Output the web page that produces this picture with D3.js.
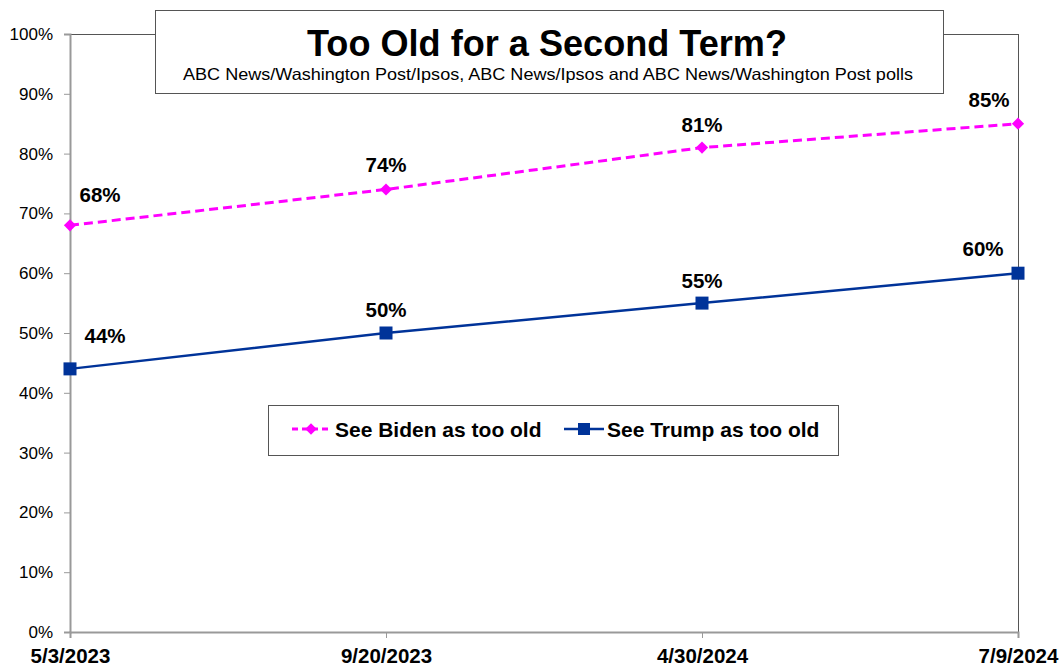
<!DOCTYPE html>
<html><head><meta charset="utf-8">
<script src="https://cdn.jsdelivr.net/npm/d3@7"></script>
<style>body{margin:0;background:#fff}svg{display:block;font-family:Arial,"Liberation Sans",sans-serif}</style>
</head><body><svg id="c" width="1060" height="666"></svg>
<script>
const dates = ["5/3/2023","9/20/2023","4/30/2024","7/9/2024"];
const biden = [68,74,81,85];
const trump = [44,50,55,60];
const yTicks = [0,10,20,30,40,50,60,70,80,90,100];
const seriesNames = ["See Biden as too old","See Trump as too old"];
const title = "Too Old for a Second Term?";
const subtitle = "ABC News/Washington Post/Ipsos, ABC News/Ipsos and ABC News/Washington Post polls";

const svg = d3.select("#c");
const L=70,R=1018,T=34,B=632;
const x = d3.scalePoint().domain(dates).range([L,R]);
const y = d3.scaleLinear().domain([0,100]).range([B,T]);
const FF = "Arial,'Liberation Sans',sans-serif";

// frame top/right
svg.append("line").attr("x1",L).attr("x2",R).attr("y1",T+0.5).attr("y2",T+0.5).attr("stroke","#555").attr("stroke-width",1);
svg.append("line").attr("x1",R+0.5).attr("x2",R+0.5).attr("y1",T).attr("y2",B).attr("stroke","#555").attr("stroke-width",1);

// y axis
const ya = svg.append("g").attr("transform",`translate(${L},0)`)
  .call(d3.axisLeft(y).tickValues(yTicks).tickFormat(d=>d+"%").tickSize(6).tickPadding(11));
ya.select(".domain").attr("stroke","#999").attr("stroke-width",2);
ya.selectAll(".tick line").attr("stroke","#999").attr("stroke-width",1);
ya.selectAll("text").attr("font-size",17).attr("fill","#000").attr("font-family",FF);

// x axis
const xa = svg.append("g").attr("transform",`translate(0,${B})`)
  .call(d3.axisBottom(x).tickSize(6).tickPadding(10));
xa.select(".domain").attr("stroke","#999").attr("stroke-width",2);
xa.selectAll(".tick line").attr("stroke","#999").attr("stroke-width",1);
xa.selectAll("text").attr("font-size",20.5).attr("font-weight","bold").attr("fill","#000").attr("font-family",FF);

const line = d3.line().x((d,i)=>x(dates[i])).y(d=>y(d));
const bc="#FF00FF", tc="#003399";
svg.append("path").datum(biden).attr("d",line).attr("fill","none").attr("stroke",bc).attr("stroke-width",3).attr("stroke-dasharray","9,5");
svg.append("path").datum(trump).attr("d",line).attr("fill","none").attr("stroke",tc).attr("stroke-width",2.5);

svg.selectAll(".bm").data(biden).enter().append("path")
  .attr("transform",(d,i)=>`translate(${x(dates[i])},${y(d)})`)
  .attr("d",d3.symbol().type(d3.symbolDiamond2).size(95)).attr("fill",bc);
svg.selectAll(".tm").data(trump).enter().append("rect")
  .attr("x",(d,i)=>x(dates[i])-6.5).attr("y",d=>y(d)-6.5).attr("width",13).attr("height",13).attr("fill",tc);

function labels(arr, dxArr, dyArr){
  svg.selectAll(null).data(arr).enter().append("text")
    .attr("x",(d,i)=>x(dates[i]) + dxArr[i])
    .attr("y",(d,i)=>y(d)+dyArr[i])
    .attr("text-anchor","middle").attr("font-size",20.5).attr("font-weight","bold").attr("fill","#000")
    .text(d=>d+"%");
}
labels(biden,[30,0,0,-29],[-23,-17,-16,-17]);
labels(trump,[35,0,0,-35],[-26,-16,-15,-17]);

// title box
svg.append("rect").attr("x",155.5).attr("y",10.5).attr("width",788).attr("height",83).attr("fill","#fff").attr("stroke","#555");
svg.append("text").attr("x",547).attr("y",56).attr("text-anchor","middle").attr("font-size",37).attr("font-weight","bold")
  .attr("textLength",480).attr("lengthAdjust","spacingAndGlyphs").text(title);
svg.append("text").attr("x",548).attr("y",80).attr("text-anchor","middle").attr("font-size",16.5)
  .attr("textLength",730).attr("lengthAdjust","spacingAndGlyphs").text(subtitle);

// legend
const lg = svg.append("g");
lg.append("rect").attr("x",268.5).attr("y",405.5).attr("width",570).attr("height",50).attr("fill","#fff").attr("stroke","#555");
const items=[{name:seriesNames[0],c:bc,x0:292,tx:335,dash:"6,4",w:3,m:"d"},{name:seriesNames[1],c:tc,x0:564,tx:607,dash:null,w:2.5,m:"s"}];
items.forEach(it=>{
  const yy=429;
  lg.append("line").attr("x1",it.x0).attr("x2",it.x0+40).attr("y1",yy).attr("y2",yy).attr("stroke",it.c).attr("stroke-width",it.w).attr("stroke-dasharray",it.dash);
  if(it.m==="d") lg.append("path").attr("transform",`translate(${it.x0+19},${yy})`).attr("d",d3.symbol().type(d3.symbolDiamond2).size(85)).attr("fill",it.c);
  else lg.append("rect").attr("x",it.x0+14).attr("y",yy-6).attr("width",12).attr("height",12).attr("fill",it.c);
  lg.append("text").attr("x",it.tx).attr("y",yy+7.5).attr("font-size",21).attr("font-weight","bold").text(it.name);
});
</script></body></html>
